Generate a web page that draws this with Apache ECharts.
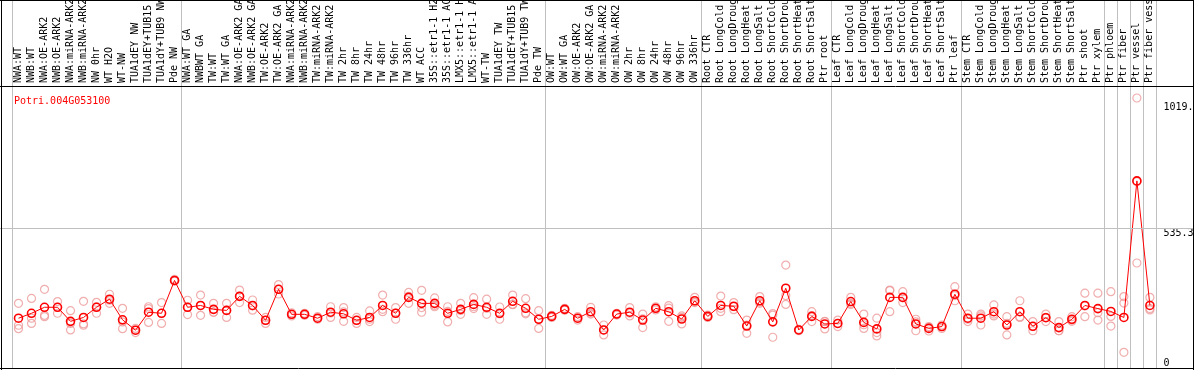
<!DOCTYPE html>
<html>
<head>
<meta charset="utf-8">
<script src="https://cdn.jsdelivr.net/npm/echarts@6/dist/echarts.min.js"></script>
<style>
html, body { margin: 0; padding: 0; background: #fff; }
#chart { width: 1194px; height: 370px; }
</style>
</head>
<body>
<div id="chart"></div>
<script>
// gene shown in the plot
var geneId = 'Potri.004G053100';

// sample names, left to right
var samples = [
    'NWA:WT', 'NWB:WT', 'NWA:OE-ARK2', 'NWB:OE-ARK2', 'NWA:miRNA-ARK2', 'NWB:miRNA-ARK2', 'NW 0hr', 'WT H2O', 'WT-NW',
    'TUA1dEY NW', 'TUA1dEY+TUB15', 'TUA1dY+TUB9 NW', 'Pde NW',
    'NWA:WT GA', 'NWBWT GA', 'TW:WT', 'TW:WT GA', 'NWA:OE-ARK2 GA', 'NWB:OE-ARK2 GA', 'TW:OE-ARK2', 'TW:OE-ARK2 GA',
    'NWA:miRNA-ARK2', 'NWB:miRNA-ARK2', 'TW:miRNA-ARK2', 'TW:miRNA-ARK2', 'TW 2hr', 'TW 8hr', 'TW 24hr', 'TW 48hr',
    'TW 96hr', 'TW 336hr', 'WT ACC', '35S::etr1-1 H2O', '35S::etr1-1 ACC', 'LMX5::etr1-1 H2O', 'LMX5::etr1-1 ACC',
    'WT-TW', 'TUA1dEY TW', 'TUA1dEY+TUB15', 'TUA1dY+TUB9 TW', 'Pde TW',
    'OW:WT', 'OW:WT GA', 'OW:OE-ARK2', 'OW:OE-ARK2 GA', 'OW:miRNA-ARK2', 'OW:miRNA-ARK2', 'OW 2hr', 'OW 8hr',
    'OW 24hr', 'OW 48hr', 'OW 96hr', 'OW 336hr',
    'Root CTR', 'Root LongCold', 'Root LongDrought', 'Root LongHeat', 'Root LongSalt', 'Root ShortCold',
    'Root ShortDrought', 'Root ShortHeat', 'Root ShortSalt', 'Ptr root',
    'Leaf CTR', 'Leaf LongCold', 'Leaf LongDrought', 'Leaf LongHeat', 'Leaf LongSalt', 'Leaf ShortCold',
    'Leaf ShortDrought', 'Leaf ShortHeat', 'Leaf ShortSalt', 'Ptr leaf',
    'Stem CTR', 'Stem LongCold', 'Stem LongDrought', 'Stem LongHeat', 'Stem LongSalt', 'Stem ShortCold',
    'Stem ShortDrought', 'Stem ShortHeat', 'Stem ShortSalt', 'Ptr shoot', 'Ptr xylem',
    'Ptr phloem', 'Ptr fiber', 'Ptr vessel', 'Ptr fiber vessel'
];

// mean expression per sample
var means = [
    191, 210, 233, 233, 179, 194, 233, 264, 185, 145, 214, 210, 336,
    233, 240, 225, 221, 275, 240, 183, 302, 206, 206, 191, 214, 208, 183, 194, 240, 210, 271, 248, 248, 210, 225, 244, 233, 210, 256, 229, 187,
    198, 225, 191, 216, 146, 207, 214, 184, 229, 216, 188, 258,
    198, 240, 237, 161, 258, 177, 306, 146, 198, 169,
    171, 255, 175, 150, 271, 271, 169, 152, 159, 283,
    191, 191, 216, 165, 216, 160, 193, 155, 187, 240, 228,
    217, 194, 718, 240
];

// replicate values per sample
var replicates = [
    [248, 164, 151], [267, 171, 191], [302, 202, 197], [255, 210, 233], [220, 146, 171], [256, 169, 164],
    [252, 210, 235], [283, 248, 260], [229, 151, 177], [152, 145, 136], [235, 228, 175], [251, 210, 171],
    [340, 336, 333],
    [260, 205, 234], [280, 202, 239], [248, 214, 214], [248, 194, 221], [299, 251, 275], [261, 222, 238],
    [194, 171, 183], [320, 302, 284], [212, 206, 200], [210, 206, 202], [197, 187, 191], [235, 194, 211],
    [232, 179, 215], [194, 171, 183], [219, 178, 187], [280, 216, 225], [232, 187, 211], [290, 248, 275],
    [298, 232, 214], [269, 235, 240], [235, 177, 217], [248, 206, 221], [270, 235, 228], [264, 206, 229],
    [234, 187, 208], [280, 243, 244], [266, 212, 208], [220, 152, 188],
    [194, 198, 202], [222, 225, 229], [197, 191, 184], [233, 210, 207], [165, 127, 146], [210, 203, 207],
    [232, 200, 210], [207, 155, 189], [235, 223, 229], [239, 179, 230], [200, 169, 194], [271, 253, 251],
    [203, 194, 197], [276, 216, 229], [251, 235, 224], [184, 133, 165], [274, 248, 253], [203, 118, 209],
    [395, 244, 278], [148, 143, 146], [216, 178, 201], [178, 150, 179],
    [184, 159, 171], [271, 248, 244], [207, 152, 166], [191, 123, 136], [299, 216, 297], [293, 251, 270],
    [187, 143, 177], [159, 142, 156], [165, 152, 159], [312, 258, 278],
    [207, 178, 187], [207, 165, 200], [242, 200, 207], [197, 127, 171], [258, 194, 196], [178, 143, 159],
    [207, 178, 194], [178, 143, 143], [197, 184, 179], [287, 197, 238], [287, 184, 212],
    [293, 161, 198], [274, 60, 249], [1036, 403, 715], [271, 223, 228]
];

// first sample of each block (gray separators)
var groupStarts = [0, 13, 41, 53, 63, 73, 84, 85, 86, 87];

// y axis labels and the one horizontal grid line
var yLabels = [0, 535.3, 1019.6];
var yGrid = [535.3];
var yMax = 1412.1;

var mono = 'DejaVu Sans Mono';
var W = 1194, H = 370;
var gridLeft = 12, gridRight = 37.6, gridTop = 0, gridBottom = 2;

var repPoints = [];
replicates.forEach(function (r, i) {
    r.forEach(function (v) { repPoints.push([i, v]); });
});

// y pixel of the grid line, same linear map as the value axis
var gy = Math.floor(gridTop + (H - gridTop - gridBottom) * (1 - yGrid[0] / yMax)) + 0.5;

var myChart = echarts.init(document.getElementById('chart'));
var option = {
    animation: false,
    title: {
        text: geneId,
        left: 9,
        top: 91,
        textStyle: { color: '#ff0000', fontSize: 10, fontWeight: 'normal', fontFamily: mono }
    },
    grid: { left: gridLeft, right: gridRight, top: gridTop, bottom: gridBottom, outerBoundsMode: 'none' },
    xAxis: {
        type: 'category',
        position: 'top',
        data: samples,
        boundaryGap: true,
        axisLine: { show: false },
        axisTick: { show: false },
        axisLabel: {
            inside: true,
            rotate: 90,
            margin: 83,
            align: 'left',
            interval: 0,
            color: '#000',
            fontSize: 10,
            fontFamily: mono
        },
        splitLine: {
            show: true,
            interval: function (i) { return groupStarts.indexOf(i) >= 0; },
            lineStyle: { color: '#c0c0c0', width: 1 }
        }
    },
    yAxis: [{
        type: 'value',
        position: 'right',
        min: 0,
        max: yMax,
        axisLine: { show: false },
        axisTick: { show: false },
        splitLine: { show: false },
        axisLabel: {
            customValues: yLabels,
            margin: 7,
            align: 'left',
            verticalAlign: 'top',
            verticalAlignMinLabel: 'bottom',
            color: '#000',
            fontSize: 10,
            fontFamily: mono,
            formatter: function (v) { return String(v); }
        }
    }, {
        // second axis on the same scale, only for the grid line
        type: 'value',
        position: 'left',
        min: 0,
        max: yMax,
        axisLine: { show: false },
        axisLabel: { show: false },
        axisTick: { show: false, customValues: yGrid },
        splitLine: { show: true, lineStyle: { color: '#c0c0c0', width: 1 } }
    }],
    graphic: {
        elements: [
            { type: 'line', z: 50, shape: { x1: 0, y1: gy, x2: W, y2: gy }, style: { stroke: '#c0c0c0', lineWidth: 1 } },
            { type: 'line', z: 100, shape: { x1: 0, y1: 86.5, x2: W, y2: 86.5 }, style: { stroke: '#000', lineWidth: 1 } },
            { type: 'line', z: 100, shape: { x1: 0, y1: 0.5, x2: W, y2: 0.5 }, style: { stroke: '#000', lineWidth: 1 } },
            { type: 'line', z: 100, shape: { x1: 0, y1: 368.5, x2: W, y2: 368.5 }, style: { stroke: '#000', lineWidth: 1 } },
            { type: 'line', z: 100, shape: { x1: 1.5, y1: 0, x2: 1.5, y2: H }, style: { stroke: '#000', lineWidth: 1 } },
            { type: 'line', z: 100, shape: { x1: 1193.5, y1: 0, x2: 1193.5, y2: H }, style: { stroke: '#000', lineWidth: 1 } }
        ]
    },
    series: [
        {
            name: 'replicates',
            type: 'scatter',
            data: repPoints,
            symbol: 'circle',
            symbolSize: 8,
            itemStyle: { color: 'transparent', borderColor: '#ee9a9a', borderWidth: 1.2 },
            z: 2,
            silent: true
        },
        {
            name: 'mean',
            type: 'line',
            data: means,
            symbol: 'circle',
            symbolSize: 8,
            showSymbol: true,
            lineStyle: { color: '#ff0000', width: 1 },
            itemStyle: { color: 'transparent', borderColor: '#ff0000', borderWidth: 1.6 },
            z: 3,
            silent: true
        }
    ]
};
myChart.setOption(option);
</script>
</body>
</html>
